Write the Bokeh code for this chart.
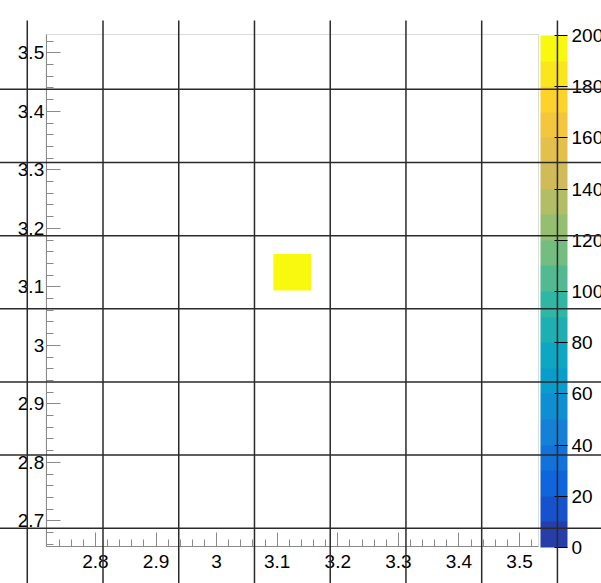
import numpy as np
from bokeh.plotting import figure
from bokeh.models import (LinearAxis, FixedTicker, CustomJSTickFormatter, ColorBar,
                          LinearColorMapper, BoxAnnotation, ColumnDataSource)
from bokeh.embed import file_html
from bokeh.resources import INLINE

# ---------------- data ----------------
x_centers = [3.125]
y_centers = [3.125]
counts = [200]
bin_width = 0.0625
x_limits = (2.71875, 3.53125)
y_limits = (2.65625, 3.53125)
x_ticks = [2.8, 2.9, 3.0, 3.1, 3.2, 3.3, 3.4, 3.5]
y_ticks = [2.7, 2.8, 2.9, 3.0, 3.1, 3.2, 3.3, 3.4, 3.5]
z_ticks = [0, 20, 40, 60, 80, 100, 120, 140, 160, 180, 200]
z_limits = (0, 200)
n_levels = 20
line_x = [2.6875, 2.8125, 2.9375, 3.0625, 3.1875, 3.3125, 3.4375, 3.5625]
line_y = [2.6875, 2.8125, 2.9375, 3.0625, 3.1875, 3.3125, 3.4375]
line_x_top = 3.555

# ---------------- palette (ROOT kBird) ----------------
stops = np.linspace(0, 1, 9)
red = [0.2082, 0.0592, 0.0780, 0.0232, 0.1802, 0.5301, 0.8186, 0.9956, 0.9764]
green = [0.1664, 0.3599, 0.5041, 0.6419, 0.7178, 0.7492, 0.7328, 0.7862, 0.9832]
blue = [0.5293, 0.8684, 0.8385, 0.7914, 0.6425, 0.4662, 0.3499, 0.1968, 0.0539]
ncol = 255
pal = []
for g in range(1, 9):
    n = int(np.floor(ncol * stops[g]) - np.floor(ncol * stops[g - 1]))
    for c in range(n):
        r = red[g - 1] + c * (red[g] - red[g - 1]) / n
        gg = green[g - 1] + c * (green[g] - green[g - 1]) / n
        b = blue[g - 1] + c * (blue[g] - blue[g - 1]) / n
        pal.append("#%02x%02x%02x" % (int(round(r * 255)), int(round(gg * 255)), int(round(b * 255))))
levels = [pal[min(int(0.01 + (i + 0.99) * ncol / n_levels), ncol - 1)] for i in range(n_levels)]

# ---------------- figure ----------------
W, H = 601, 583
px_x = 605.9   # pixels per x unit
px_y = 585.14  # pixels per y unit
fl, ft = 45.7, 34.0  # frame left / top in pixels
x0 = x_limits[0] - fl / px_x
x1 = x0 + W / px_x
y1 = y_limits[1] + ft / px_y
y0 = y1 - H / px_y

p = figure(width=W, height=H, output_backend="svg", toolbar_location=None,
           x_range=(x0, x1), y_range=(y0, y1),
           x_axis_location=None, y_axis_location=None,
           min_border=0, min_border_left=0, min_border_right=0,
           min_border_top=0, min_border_bottom=0)
p.outline_line_color = None
p.grid.visible = False
p.background_fill_color = "white"
p.border_fill_color = "white"

mapper = LinearColorMapper(palette=levels, low=z_limits[0], high=z_limits[1])

src = ColumnDataSource(dict(x=x_centers, y=y_centers, z=counts))
p.rect(x="x", y="y", width=bin_width, height=bin_width, source=src,
       fill_color={"field": "z", "transform": mapper}, line_color=None)

axis_col = "#8a8a8a"
fmt = CustomJSTickFormatter(code="return tick.toFixed(1).replace(/\\.0$/, '');")

def minor(lo, hi):
    return list(np.round(np.arange(np.ceil(lo / 0.02) * 0.02, hi + 1e-9, 0.02), 4))

xa = LinearAxis(ticker=FixedTicker(ticks=x_ticks, minor_ticks=minor(*x_limits)),
                formatter=fmt, fixed_location=y_limits[0], bounds=x_limits)
ya = LinearAxis(ticker=FixedTicker(ticks=y_ticks, minor_ticks=minor(*y_limits)),
                formatter=fmt, fixed_location=x_limits[0], bounds=y_limits)
for ax in (xa, ya):
    ax.axis_line_color = axis_col
    ax.major_tick_line_color = axis_col
    ax.minor_tick_line_color = axis_col
    ax.major_tick_in = 14
    ax.major_tick_out = 0
    ax.minor_tick_in = 7
    ax.minor_tick_out = 0
    ax.major_label_text_font = "Liberation Sans"
    ax.major_label_text_font_size = "19px"
    ax.major_label_text_color = "black"
xa.major_label_standoff = 9
ya.major_label_standoff = 2
p.add_layout(xa, "below")
p.add_layout(ya, "left")

frame = BoxAnnotation(left=x_limits[0], right=x_limits[1], bottom=y_limits[0], top=y_limits[1],
                      fill_alpha=0, fill_color=None, line_color=axis_col, line_width=1)
p.add_layout(frame)

cb = ColorBar(color_mapper=mapper, ticker=FixedTicker(ticks=z_ticks),
              width=27, height=512, location=(540, 36), padding=0, margin=0,
              major_tick_in=13, major_tick_out=0, major_tick_line_color="black",
              minor_tick_line_color=None, bar_line_color=None, border_line_color=None,
              background_fill_color=None, label_standoff=4,
              major_label_text_font="Liberation Sans", major_label_text_font_size="19px",
              major_label_text_color="black")
p.add_layout(cb, "center")

# dark canvas lines
seg = p.segment(x0=line_x, y0=[line_x_top] * len(line_x), x1=line_x, y1=[y0 - 1] * len(line_x),
                line_color="#2a2a2a", line_width=1.5)
seg.level = "overlay"
hseg = p.segment(x0=[x0 - 1] * len(line_y), y0=line_y, x1=[x1 + 1] * len(line_y), y1=line_y,
                 line_color="#2a2a2a", line_width=1.5)
hseg.level = "overlay"

open("out.html", "w").write(file_html(p, INLINE))
